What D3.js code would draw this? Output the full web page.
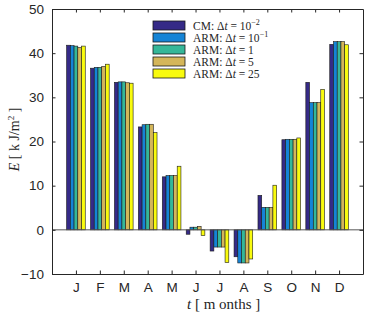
<!DOCTYPE html>
<html>
<head>
<meta charset="utf-8">
<script src="https://cdn.jsdelivr.net/npm/d3@7"></script>
<style>
  body { margin: 0; background: #fff; }
  svg { display: block; }
</style>
</head>
<body>
<div id="chart"></div>
<script>
// Data
const months = ["J", "F", "M", "A", "M", "J", "J", "A", "S", "O", "N", "D"];
const seriesNames = ["cm", "arm01", "arm1", "arm5", "arm25"];
const cm    = [41.8, 36.6, 33.4, 23.3, 12.0, -1.0, -4.8, -6.1,  7.8, 20.4, 33.4, 42.0];
const arm01 = [41.7, 36.8, 33.5, 23.8, 12.3,  0.6, -3.9, -7.5,  5.1, 20.5, 28.8, 42.6];
const arm1  = [41.6, 36.8, 33.5, 23.9, 12.3,  0.6, -3.9, -7.5,  5.1, 20.5, 28.8, 42.6];
const arm5  = [41.3, 37.0, 33.3, 23.9, 12.3,  0.8, -3.9, -7.5,  5.1, 20.5, 28.8, 42.6];
const arm25 = [41.6, 37.5, 33.2, 22.0, 14.4, -1.3, -7.4, -6.6, 10.1, 20.8, 31.8, 41.9];
const yTicks = [-10, 0, 10, 20, 30, 40, 50];
const colors = ["#352a87", "#1584d6", "#35b799", "#d4b65a", "#f9fb0e"];

const series = [cm, arm01, arm1, arm5, arm25];

const W = 374, H = 318;
const margin = { top: 9, right: 11, bottom: 44, left: 52 };
const width = W - margin.left - margin.right;
const height = H - margin.top - margin.bottom;

const svg = d3.select("#chart").append("svg")
    .attr("width", W)
    .attr("height", H);

const g = svg.append("g")
    .attr("transform", `translate(${margin.left},${margin.top})`);

// x in "month units": xlim [0, 13]
const x = d3.scaleLinear().domain([0, 13]).range([0, width]);
const y = d3.scaleLinear().domain([-10, 50]).range([height, 0]);

// inner band for the five bars of each month
const groupW = 0.78;
const xInner = d3.scaleBand()
    .domain(seriesNames)
    .range([-groupW / 2, groupW / 2]);

// Bars
series.forEach((vals, si) => {
    g.append("g").selectAll("rect")
        .data(vals)
        .join("rect")
        .attr("x", (d, i) => x(i + 1 + xInner(seriesNames[si])))
        .attr("width", x(xInner.bandwidth()) - x(0))
        .attr("y", d => y(Math.max(0, d)))
        .attr("height", d => Math.abs(y(d) - y(0)))
        .attr("fill", colors[si])
        .attr("stroke", "#1a1a1a")
        .attr("stroke-width", 0.6);
});

// Baseline at zero
g.append("line")
    .attr("x1", 0).attr("x2", width)
    .attr("y1", y(0)).attr("y2", y(0))
    .attr("stroke", "#555")
    .attr("stroke-width", 1);

// Axes (ticks inward, boxed)
const axisColor = "#262626";
const tickLen = 3.5;

const xAxis = g.append("g")
    .attr("transform", `translate(0,${height})`)
    .call(d3.axisBottom(x)
        .tickValues(d3.range(1, 13))
        .tickFormat(d => months[d - 1])
        .tickSizeInner(-tickLen)
        .tickSizeOuter(0)
        .tickPadding(8));

const yAxis = g.append("g")
    .call(d3.axisLeft(y)
        .tickValues(yTicks)
        .tickSizeInner(-tickLen)
        .tickSizeOuter(0)
        .tickPadding(8));

const xTop = g.append("g")
    .call(d3.axisTop(x)
        .tickValues(d3.range(1, 13))
        .tickFormat("")
        .tickSizeInner(-tickLen)
        .tickSizeOuter(0));

const yRight = g.append("g")
    .attr("transform", `translate(${width},0)`)
    .call(d3.axisRight(y)
        .tickValues(yTicks)
        .tickFormat("")
        .tickSizeInner(-tickLen)
        .tickSizeOuter(0));

[xAxis, yAxis, xTop, yRight].forEach(a => {
    a.selectAll("path, line").attr("stroke", axisColor).attr("stroke-width", 1);
    a.selectAll("text")
        .attr("fill", axisColor)
        .style("font-family", "'Liberation Sans', Arial, sans-serif")
        .style("font-size", "13.5px");
});

// Axis labels
const serif = "'Liberation Serif', 'DejaVu Serif', serif";

const xl = svg.append("text")
    .attr("x", 187)
    .attr("y", 309)
    .attr("text-anchor", "start")
    .attr("fill", "#262626")
    .style("font-family", serif)
    .style("font-size", "15px");
xl.append("tspan").style("font-style", "italic").text("t");
xl.append("tspan").text(" [ m onths ]");

const yl = svg.append("text")
    .attr("transform", `translate(19,${margin.top + height / 2 - 2}) rotate(-90)`)
    .attr("text-anchor", "middle")
    .attr("fill", "#262626")
    .style("font-family", serif)
    .style("font-size", "14px");
yl.append("tspan").style("font-style", "italic").text("E");
yl.append("tspan").text(" [ k J/m");
yl.append("tspan").attr("dy", -5).style("font-size", "9px").text("2");
yl.append("tspan").attr("dy", 5).text(" ]");

// Legend
const legendLabels = [
    { pre: "CM: ", rhs: "10", exp: "\u22122" },
    { pre: "ARM: ", rhs: "10", exp: "\u22121" },
    { pre: "ARM: ", rhs: "1", exp: null },
    { pre: "ARM: ", rhs: "5", exp: null },
    { pre: "ARM: ", rhs: "25", exp: null }
];

const legend = svg.append("g").attr("transform", "translate(153,21)");
const rowH = 12;

legendLabels.forEach((lab, i) => {
    const row = legend.append("g").attr("transform", `translate(0,${i * rowH})`);
    row.append("rect")
        .attr("x", 0).attr("y", 0)
        .attr("width", 32).attr("height", 9)
        .attr("fill", colors[i])
        .attr("stroke", "#1a1a1a")
        .attr("stroke-width", 0.8);
    const t = row.append("text")
        .attr("x", 40).attr("y", 8.5)
        .attr("fill", "#262626")
        .style("font-family", serif)
        .style("font-size", "11.5px");
    t.append("tspan").text(lab.pre + "\u0394");
    t.append("tspan").style("font-style", "italic").text("t");
    t.append("tspan").text(" = " + lab.rhs);
    if (lab.exp) {
        t.append("tspan").attr("dy", -5).style("font-size", "8px").text(lab.exp);
    }
});
</script>
</body>
</html>
